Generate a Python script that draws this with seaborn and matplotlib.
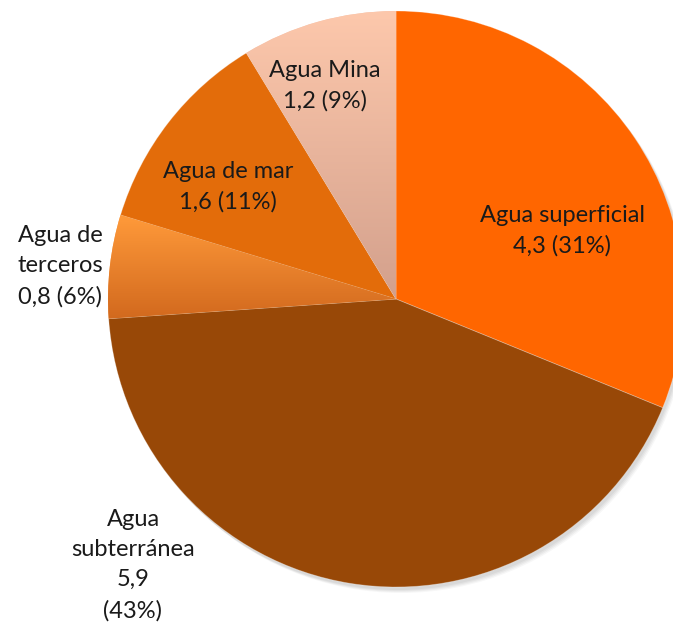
import numpy as np
import matplotlib
matplotlib.use("Agg")
import matplotlib.pyplot as plt
import seaborn as sns
from matplotlib.colors import LinearSegmentedColormap

sns.set_theme(style="white")
plt.rcParams['font.family'] = ['Lato', 'DejaVu Sans']

categories = ["Agua superficial", "Agua subterránea", "Agua de terceros", "Agua de mar", "Agua Mina"]
values = [4.3, 5.9, 0.8, 1.6, 1.2]
labels = ["Agua superficial\n4,3 (31%)", "Agua\nsubterránea\n5,9\n(43%)", "Agua de\nterceros\n0,8 (6%)",
          "Agua de mar\n1,6 (11%)", "Agua Mina\n1,2 (9%)"]
colors = ["#FF6600", "#984807", "#F08A2E", "#E36C0A", "#F2B89C"]
gradients = {2: ("#FF9A3A", "#D2691E"), 4: ("#FDC8AC", "#D3A08C")}
label_pos = [(562, 231), (133, 565), (60, 266), (228, 187), (325, 86)]

W, H = 673, 623
fig = plt.figure(figsize=(W / 100, H / 100), dpi=100)
ax = fig.add_axes([0, 0, 1, 1])

cx, cy, r = 396, H - 299, 288

# soft shadow
for i, a in enumerate([0.04, 0.04, 0.04, 0.03]):
    ax.add_patch(plt.Circle((cx + 2 + i, cy - 3 - i), r, color="black", alpha=a, lw=0, zorder=0))

wedges, _ = ax.pie(values, colors=colors, startangle=90, counterclock=False,
                   center=(cx, cy), radius=r, frame=True,
                   wedgeprops=dict(linewidth=0.6, edgecolor=(1, 1, 1, 0.3)))
ax.set_xlim(0, W)
ax.set_ylim(0, H)
ax.set_aspect("equal")
ax.axis("off")
for w in wedges:
    w.set_zorder(2)

for idx, (c1, c2) in gradients.items():
    w = wedges[idx]
    bb = w.get_path().get_extents(w.get_transform() + ax.transData.inverted())
    cmap = LinearSegmentedColormap.from_list("g", [c1, c2])
    grad = np.linspace(0, 1, 256).reshape(-1, 1)
    im = ax.imshow(grad, cmap=cmap, extent=[bb.x0, bb.x1, bb.y0, bb.y1], origin="upper",
                   aspect="auto", zorder=3)
    im.set_clip_path(w)
ax.set_xlim(0, W)
ax.set_ylim(0, H)

for (x, y), lab in zip(label_pos, labels):
    ax.text(x, H - y, lab, ha="center", va="center", fontsize=17, color="#1a1a1a",
            linespacing=1.55, zorder=5)

fig.savefig("out.png", dpi=100)
